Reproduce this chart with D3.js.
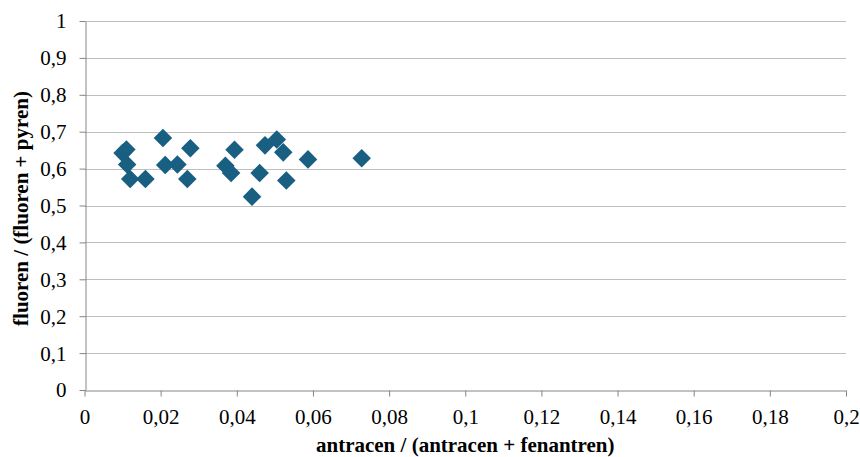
<!DOCTYPE html>
<html>
<head>
<meta charset="utf-8">
<script src="https://cdn.jsdelivr.net/npm/d3@7"></script>
<style>
  body { margin: 0; background: #fff; }
  svg { display: block; font-family: "Liberation Serif", "Times New Roman", serif; }
</style>
</head>
<body>
<div id="chart"></div>
<script>
// values
var xValues = [0.0100, 0.0110, 0.0112, 0.0120, 0.0160, 0.0206, 0.0212, 0.0244, 0.0270, 0.0278,
               0.0370, 0.0385, 0.0394, 0.0440, 0.0460, 0.0474, 0.0505, 0.0522, 0.0530, 0.0587, 0.0728];
var yValues = [0.642, 0.652, 0.611, 0.572, 0.572, 0.683, 0.610, 0.611, 0.572, 0.655,
               0.608, 0.588, 0.651, 0.524, 0.588, 0.663, 0.679, 0.644, 0.568, 0.625, 0.628];
var xTicks = [0, 0.02, 0.04, 0.06, 0.08, 0.1, 0.12, 0.14, 0.16, 0.18, 0.2];
var yTicks = [0, 0.1, 0.2, 0.3, 0.4, 0.5, 0.6, 0.7, 0.8, 0.9, 1];

var width = 860, height = 457;
var margin = {top: 21, right: 14, bottom: 67, left: 84.5};
var serif = "'Liberation Serif', 'Times New Roman', serif";

var svg = d3.select("#chart").append("svg")
    .attr("width", width)
    .attr("height", height);

var x = d3.scaleLinear().domain([0, 0.2]).range([margin.left, width - margin.right]);
var y = d3.scaleLinear().domain([0, 1]).range([height - margin.bottom, margin.top]);

var fmt = function (d) { return String(d).replace(".", ","); };

// horizontal gridlines
svg.append("g")
    .selectAll("line")
    .data(yTicks.slice(1))
    .enter()
    .append("line")
    .attr("x1", x(0))
    .attr("x2", x(0.2))
    .attr("y1", function (d) { return Math.round(y(d)) + 0.5; })
    .attr("y2", function (d) { return Math.round(y(d)) + 0.5; })
    .attr("stroke", "#bfbfbf")
    .attr("stroke-width", 1);

var xAxis = svg.append("g")
    .attr("transform", "translate(0," + (Math.round(y(0)) + 0.5) + ")")
    .call(d3.axisBottom(x).tickValues(xTicks).tickFormat(fmt).tickSize(6).tickSizeOuter(0).tickPadding(13));

var yAxis = svg.append("g")
    .attr("transform", "translate(" + (Math.round(x(0)) + 0.5) + ",0)")
    .call(d3.axisLeft(y).tickValues(yTicks).tickFormat(fmt).tickSize(6).tickSizeOuter(0).tickPadding(13));

[xAxis, yAxis].forEach(function (a) {
    a.attr("font-family", serif).attr("font-size", 21);
    a.select(".domain").attr("stroke", "#868686");
    a.selectAll(".tick line").attr("stroke", "#868686");
    a.selectAll(".tick text")
        .attr("fill", "#000")
        .style("font-size", "21px")
        .style("font-family", serif);
});
yAxis.selectAll(".tick text").attr("dy", "0.33em");

// markers
var diamond = d3.symbol().type(d3.symbolSquare).size(172);
svg.append("g")
    .selectAll("path")
    .data(xValues.map(function (v, i) { return [v, yValues[i]]; }))
    .enter()
    .append("path")
    .attr("d", diamond)
    .attr("transform", function (d) { return "translate(" + x(d[0]) + "," + y(d[1]) + ") rotate(45)"; })
    .attr("fill", "#185f82");

// axis titles
svg.append("text")
    .attr("x", (x(0) + x(0.2)) / 2)
    .attr("y", 452)
    .attr("text-anchor", "middle")
    .style("font-family", serif)
    .style("font-size", "21px")
    .style("font-weight", "bold")
    .text("antracen / (antracen + fenantren)");

svg.append("text")
    .attr("transform", "translate(28," + ((y(0) + y(1)) / 2 + 3) + ") rotate(-90)")
    .attr("text-anchor", "middle")
    .style("font-family", serif)
    .style("font-size", "21px")
    .style("font-weight", "bold")
    .text("fluoren / (fluoren + pyren)");
</script>
</body>
</html>
